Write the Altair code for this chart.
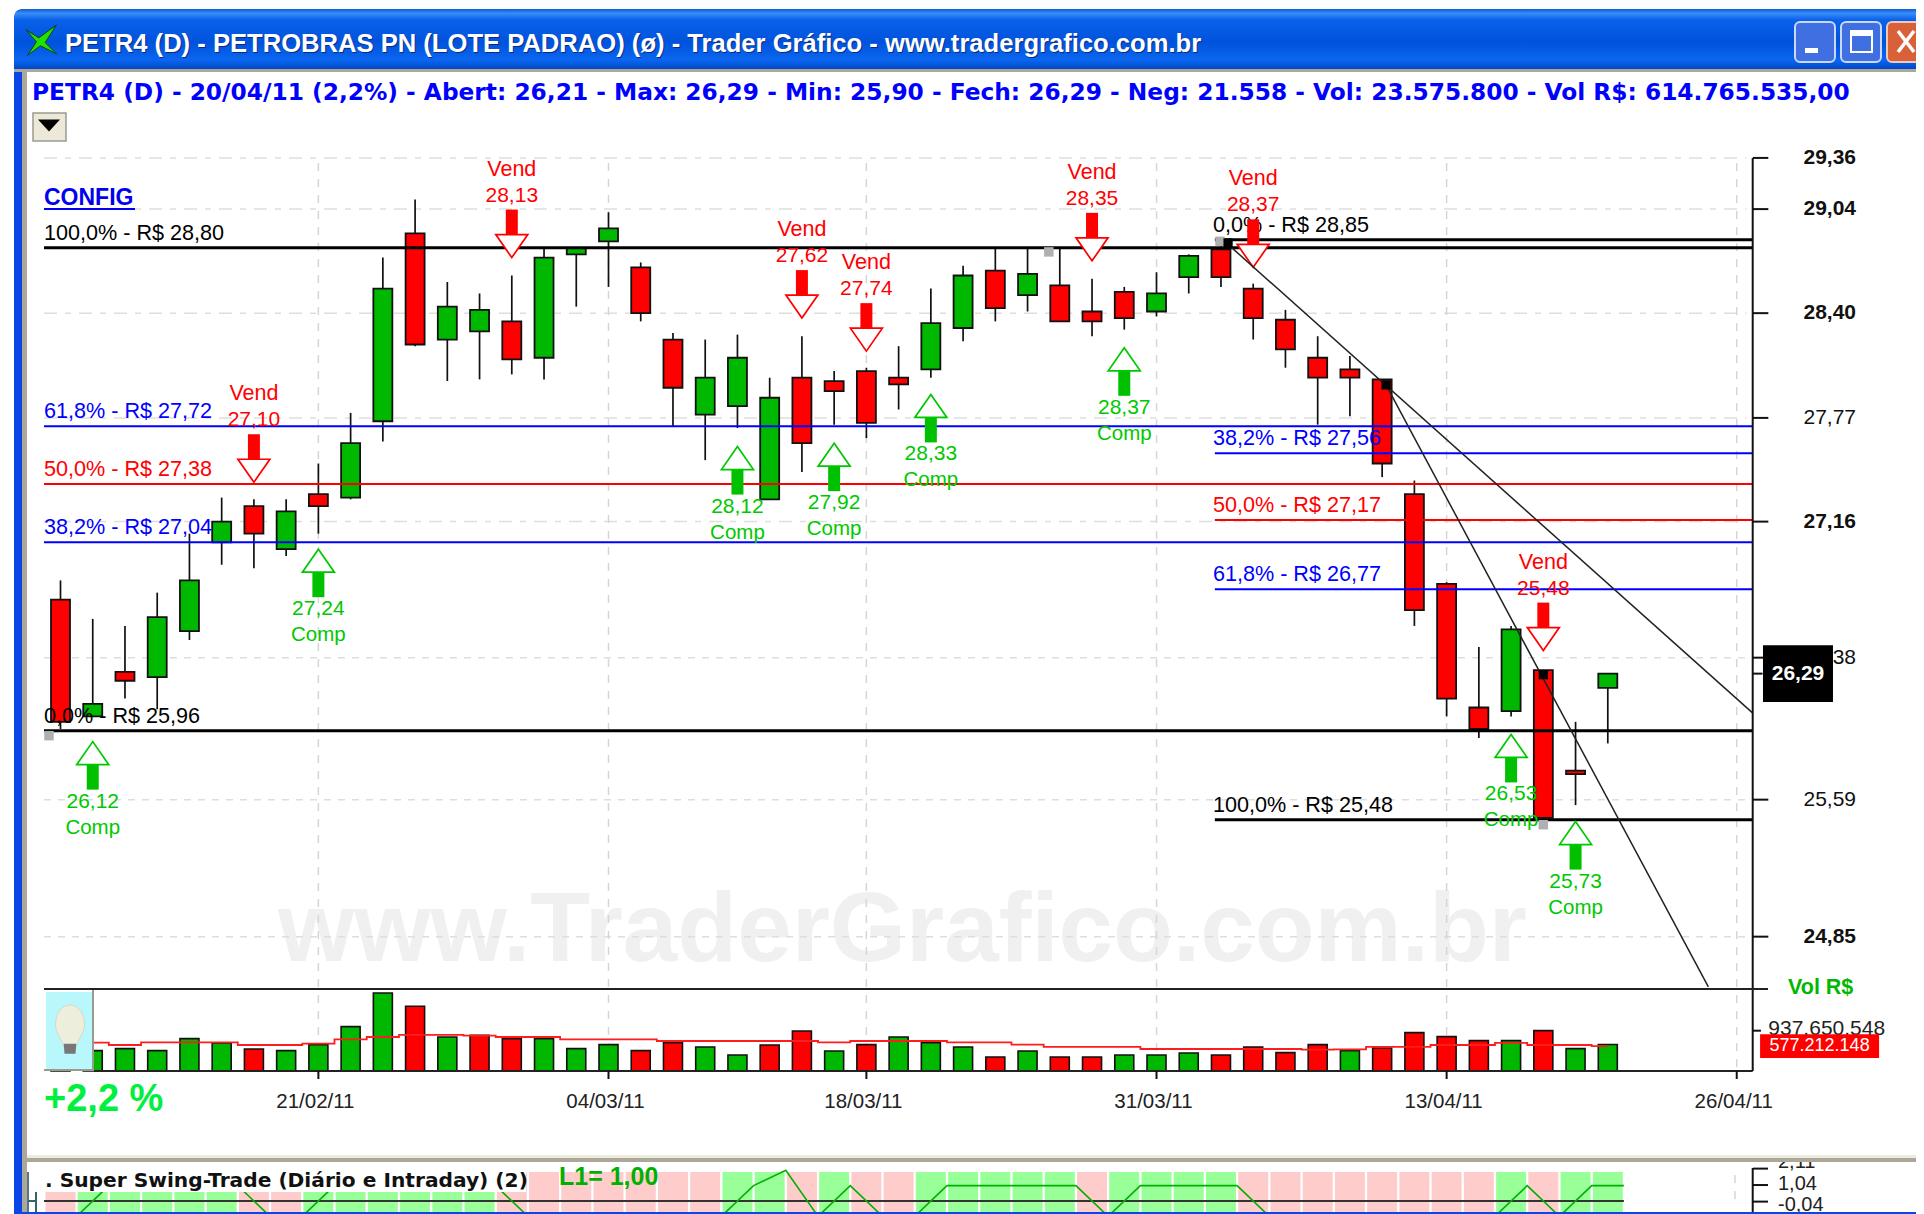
import altair as alt

FONT = "Liberation Sans"

# ---- candle values ----
highs = [26.82,26.60,26.56,26.75,27.09,27.30,27.29,27.29,27.50,27.80,28.74,29.10,28.59,28.52,28.63,28.80,28.80,29.02,28.71,28.28,28.24,28.27,28.01,28.26,28.05,28.07,28.20,28.55,28.69,28.80,28.80,28.80,28.61,28.56,28.65,28.76,28.86,28.58,28.42,28.26,28.14,28.00,27.40,26.81,26.44,26.56,26.31,26.02,26.29]
lows = [25.98,26.05,26.15,26.09,26.48,26.91,26.89,26.96,27.09,27.29,27.63,28.20,27.99,28.00,28.03,28.00,28.44,28.56,28.35,27.72,27.52,27.71,27.29,27.45,27.73,27.65,27.82,28.01,28.23,28.35,28.41,28.35,28.26,28.30,28.38,28.52,28.56,28.24,28.07,27.73,27.78,27.42,26.56,26.05,25.93,26.05,25.49,25.56,25.90]
body_top = [26.71,26.12,26.30,26.61,26.82,27.16,27.25,27.22,27.32,27.62,28.55,28.89,28.44,28.42,28.35,28.74,28.80,28.92,28.68,28.24,28.01,28.13,27.89,28.01,27.99,28.05,28.01,28.34,28.63,28.66,28.64,28.57,28.41,28.53,28.52,28.75,28.79,28.55,28.36,28.13,28.06,28.00,27.32,26.80,26.10,26.54,26.31,25.75,26.29]
body_bottom = [26.02,26.05,26.25,26.27,26.53,27.04,27.09,27.00,27.25,27.30,27.75,28.21,28.24,28.29,28.12,28.13,28.76,28.84,28.40,27.95,27.79,27.84,27.29,27.62,27.93,27.74,27.97,28.06,28.31,28.43,28.51,28.35,28.35,28.37,28.41,28.62,28.62,28.37,28.18,28.01,28.01,27.50,26.65,26.15,25.98,26.08,25.49,25.73,26.21]
candle_up = [0,1,0,1,1,1,0,1,0,1,1,0,1,1,0,1,1,1,0,0,1,1,1,0,0,0,0,1,1,0,1,0,0,0,1,1,0,0,0,0,0,0,0,0,0,1,0,0,1]

# ---- volume values (R$ millions) ----
volume = [500,473,520,473,752,652,512,473,613,1032,1815,1505,791,830,752,752,520,613,473,659,559,372,605,931,465,613,791,659,559,326,465,326,326,372,372,419,372,559,427,613,473,535,892,799,706,706,939,520,615]
vol_up = [1,1,1,1,1,1,0,1,1,1,1,0,1,0,0,1,1,1,0,0,1,1,0,0,1,0,1,1,1,0,1,0,0,1,1,1,0,0,0,0,1,0,0,0,0,1,0,1,1]
vol_avg = [659,659,605,667,667,667,605,605,636,737,791,838,838,822,791,791,737,737,737,698,698,698,698,698,667,698,698,698,667,667,613,559,559,559,512,512,512,512,512,496,504,559,559,605,605,652,605,605,577]

# ---- indicator ----
ind_green = [0,1,1,1,1,1,0,0,1,1,1,1,1,1,0,0,0,0,0,0,0,1,1,0,1,0,0,1,1,1,1,1,0,1,1,1,1,0,0,0,0,0,0,0,0,1,0,1,1]
ind_x = [0.5,1.5,5.5,6.5,7.5,8.5,13.5,14.5,20.5,21.5,22.5,23.5,24.5,25.5,26.5,27.5,31.5,32.5,33.5,36.5,37.5,44.5,45.5,46.5,47.5,48.5]
ind_y = [-1,1,1,-1,-1,1,1,-1,-1,1,2,-1,1,-1,-1,1,1,-1,1,1,-1,-1,1,-1,1,1]

# ---- signals ----
vend_idx = [6,14,23,25,32,37,46]
vend_tip = [27.39,28.74,28.37,28.17,28.72,28.68,26.42]
vend_txt = ["27,10","28,13","27,62","27,74","28,35","28,37","25,48"]
comp_idx = [1,8,21,24,27,33,45,47]
comp_tip = [25.91,27.00,27.60,27.62,27.91,28.19,25.95,25.47]
comp_txt = ["26,12","27,24","28,12","27,92","28,33","28,37","26,53","25,73"]

# ---- fibonacci levels ----
fib_left = [("100,0% - R$ 28,80",28.80,"#000000",3),("61,8% - R$ 27,72",27.72,"#0000ff",2),("50,0% - R$ 27,38",27.38,"#ff0000",2),("38,2% - R$ 27,04",27.04,"#0000ff",2),("0,0% - R$ 25,96",25.97,"#000000",3)]
fib_right = [("0,0% - R$ 28,85",28.85,"#000000",3),("38,2% - R$ 27,56",27.56,"#0000ff",2),("50,0% - R$ 27,17",27.17,"#ff0000",2),("61,8% - R$ 26,77",26.77,"#0000ff",2),("100,0% - R$ 25,48",25.48,"#000000",3)]

# ---- axes ----
price_ticks = [29.36,29.04,28.40,27.77,27.16,26.38,25.59,24.85]
price_tick_txt = ["29,36","29,04","28,40","27,77","27,16","26,38","25,59","24,85"]
price_tick_bold = [1,1,1,0,1,0,0,1]
grid_short = [0,0,0,0,0,1,1,1]
date_idx = [8,17,25,34,43,52]
date_txt = ["21/02/11","04/03/11","18/03/11","31/03/11","13/04/11","26/04/11"]

X0, X1 = -0.512, 52.50      # left / right limit of the plot, in bars
XR = 35.81                  # start of the second Fibonacci set

x_scale = alt.Scale(domain=[-1.6287, 57.561], nice=False, zero=False, padding=0)
price_scale = alt.Scale(type="log", domain=[23.417, 30.318], nice=False, zero=False)
vol_scale = alt.Scale(domain=[-3328, 24736], nice=False, zero=False)
ind_scale = alt.Scale(domain=[-0.847, 77.72], nice=False, zero=False)

def X(f="i"):
    return alt.X(f + ":Q", scale=x_scale, axis=None)
def P(f="p"):
    return alt.Y(f + ":Q", scale=price_scale, axis=None)
def V(f="v"):
    return alt.Y(f + ":Q", scale=vol_scale, axis=None)
def I(f="v"):
    return alt.Y(f + ":Q", scale=ind_scale, axis=None)

ONE = alt.Data(values=[{"a": 1}])
layers = []

def rect(x0, y0, x1, y1, fill, **kw):
    layers.append(alt.Chart(ONE).mark_rect(fill=fill, **kw).encode(
        x=alt.value(x0 - 8), x2=alt.value(x1 - 8), y=alt.value(y0 - 8), y2=alt.value(y1 - 8)))

def seg(x0, y0, x1, y1, color, w=1.5, **kw):
    layers.append(alt.Chart(ONE).mark_rule(color=color, strokeWidth=w, **kw).encode(
        x=alt.value(x0 - 8), x2=alt.value(x1 - 8), y=alt.value(y0 - 8), y2=alt.value(y1 - 8)))

def txt(s, x, y, size, color, weight="normal", align="left", font=FONT):
    layers.append(alt.Chart(ONE).mark_text(text=s, font=font, fontSize=size, color=color, fontWeight=weight,
                                           align=align, baseline="middle").encode(
        x=alt.value(x - 8), y=alt.value(y - 8)))

def glyph(path, x, y, unit, fill, stroke=None, w=1):
    kw = {"stroke": stroke, "strokeWidth": w} if stroke else {"strokeWidth": 0}
    layers.append(alt.Chart(ONE).mark_point(shape=path, size=(2 * unit) ** 2, fill=fill, opacity=1, **kw).encode(
        x=alt.value(x - 8), y=alt.value(y - 8)))

# ---- window chrome, lower layer ----
rect(14, 71, 22, 1214, "#0a45e8")
rect(22, 71, 27, 1214, "#aca899")

# watermark
txt("www.TraderGrafico.com.br", 278, 932, 98, "#f0f0f0", "bold")

# grid
grid_rows = [{"p": p, "a": X0, "b": 52.3, "s": s} for p, s in zip(price_ticks, grid_short)]
layers.append(alt.Chart(alt.Data(values=[r for r in grid_rows if not r["s"]])).mark_rule(color="#dedede", strokeWidth=1.5, strokeDash=[13, 8, 6, 8]).encode(x=X("a"), x2="b:Q", y=P()))
layers.append(alt.Chart(alt.Data(values=[r for r in grid_rows if r["s"]])).mark_rule(color="#dedede", strokeWidth=1.5, strokeDash=[7, 7]).encode(x=X("a"), x2="b:Q", y=P()))
layers.append(alt.Chart(alt.Data(values=[{"i": i} for i in date_idx])).mark_rule(color="#d6d6d6", strokeWidth=1.5, strokeDash=[8, 8]).encode(
    x=X(), y=alt.value(155), y2=alt.value(1063)))

# ---- volume panel ----
vol_rows = [{"i": i, "v": v, "z": 0, "c": "#00b800" if u else "#ff0000"} for i, (v, u) in enumerate(zip(volume, vol_up))]
layers.append(alt.Chart(alt.Data(values=vol_rows)).mark_bar(size=19, stroke="#111111", strokeWidth=1.6).encode(
    x=X(), y=V(), y2="z:Q", color=alt.Color("c:N", scale=None)))
layers.append(alt.Chart(alt.Data(values=[{"i": i, "v": v} for i, v in enumerate(vol_avg)])).mark_line(
    color="#ff1c1c", strokeWidth=1.8, interpolate="step").encode(x=X(), y=V()))

# ---- candles ----
c_rows = [{"i": i, "h": h, "l": l, "t": t, "b": b, "c": "#00b800" if u else "#ff0000"}
          for i, (h, l, t, b, u) in enumerate(zip(highs, lows, body_top, body_bottom, candle_up))]
c_data = alt.Data(values=c_rows)
layers.append(alt.Chart(c_data).mark_rule(color="#111111", strokeWidth=1.7).encode(x=X(), y=P("h"), y2="l:Q"))
layers.append(alt.Chart(c_data).mark_bar(size=19, stroke="#111111", strokeWidth=1.8).encode(
    x=X(), y=P("t"), y2="b:Q", color=alt.Color("c:N", scale=None)))

# ---- Fibonacci levels ----
fib_rows = [{"a": X0, "b": X1, "p": p, "c": c, "w": w, "s": s, "l": X0} for s, p, c, w in fib_left] + \
           [{"a": XR, "b": X1, "p": p, "c": c, "w": w, "s": s, "l": 35.75} for s, p, c, w in fib_right]
fib_data = alt.Data(values=fib_rows)
layers.append(alt.Chart(fib_data).mark_rule().encode(
    x=X("a"), x2="b:Q", y=P(), color=alt.Color("c:N", scale=None), strokeWidth=alt.StrokeWidth("w:Q", scale=None)))
layers.append(alt.Chart(fib_data).mark_text(align="left", baseline="middle", dy=-14, font=FONT, fontSize=21.6).encode(
    x=X("l"), y=P(), text="s:N", color=alt.Color("c:N", scale=None)))

# ---- signals ----
GREEN = "#00c800"
RED = "#ff0000"
vend = alt.Data(values=[{"i": i, "p": p, "s": s} for i, p, s in zip(vend_idx, vend_tip, vend_txt)])
comp = alt.Data(values=[{"i": i, "p": p, "s": s} for i, p, s in zip(comp_idx, comp_tip, comp_txt)])
U = 10000
layers.append(alt.Chart(vend).mark_point(shape="M-.12,-.46 L.12,-.46 L.12,-.96 L-.12,-.96 Z", size=U, fill=RED, strokeWidth=0, opacity=1).encode(x=X(), y=P()))
layers.append(alt.Chart(vend).mark_point(shape="M0,0 L-.32,-.46 L.32,-.46 Z", size=U, fill="#ffffff", stroke=RED, strokeWidth=1.7, opacity=1).encode(x=X(), y=P()))
layers.append(alt.Chart(vend).mark_text(text="Vend", font=FONT, fontSize=21.5, color=RED, dy=-88, baseline="middle").encode(x=X(), y=P()))
layers.append(alt.Chart(vend).mark_text(font=FONT, fontSize=21, color=RED, dy=-62, baseline="middle").encode(x=X(), y=P(), text="s:N"))
layers.append(alt.Chart(comp).mark_point(shape="M-.12,.46 L.12,.46 L.12,.96 L-.12,.96 Z", size=U, fill="#00c000", strokeWidth=0, opacity=1).encode(x=X(), y=P()))
layers.append(alt.Chart(comp).mark_point(shape="M0,0 L-.32,.46 L.32,.46 Z", size=U, fill="#ffffff", stroke=GREEN, strokeWidth=1.7, opacity=1).encode(x=X(), y=P()))
layers.append(alt.Chart(comp).mark_text(font=FONT, fontSize=21, color=GREEN, dy=60, baseline="middle").encode(x=X(), y=P(), text="s:N"))
layers.append(alt.Chart(comp).mark_text(text="Comp", font=FONT, fontSize=20.5, color=GREEN, dy=86, baseline="middle").encode(x=X(), y=P()))

# ---- trend lines ----
trend_a = [{"i": 36.34, "p": 28.80}, {"i": 52.49, "p": 26.07}]
trend_b = [{"i": 41.12, "p": 27.967}, {"i": 51.12, "p": 24.584}]
for t in (trend_a, trend_b):
    layers.append(alt.Chart(alt.Data(values=t)).mark_line(color="#222222", strokeWidth=1.5).encode(x=X(), y=P()))

# handles
handles_grey = [{"i": -0.357, "p": 25.943}, {"i": 30.66, "p": 28.775}, {"i": 35.97, "p": 28.84}, {"i": 46, "p": 25.453}]
handles_black = [{"i": 41.12, "p": 27.967}, {"i": 46, "p": 26.284}, {"i": 36.22, "p": 28.83}]
layers.append(alt.Chart(alt.Data(values=handles_grey)).mark_point(shape="square", size=90, fill="#b0b0b0", strokeWidth=0, opacity=1).encode(x=X(), y=P()))
layers.append(alt.Chart(alt.Data(values=handles_black)).mark_point(shape="square", size=85, fill="#000000", strokeWidth=0, opacity=1).encode(x=X(), y=P()))

# ---- right price axis ----
tick_rows = [{"a": X1, "b": 52.98, "l": 54.07, "p": p, "s": s, "bold": b} for p, s, b in zip(price_ticks, price_tick_txt, price_tick_bold)]
layers.append(alt.Chart(alt.Data(values=tick_rows)).mark_rule(color="#111111", strokeWidth=2).encode(x=X("a"), x2="b:Q", y=P()))
layers.append(alt.Chart(alt.Data(values=[r for r in tick_rows if r["bold"]])).mark_text(align="left", baseline="middle", font=FONT, fontSize=21, fontWeight="bold", color="#111111").encode(x=X("l"), y=P(), text="s:N"))
layers.append(alt.Chart(alt.Data(values=[r for r in tick_rows if not r["bold"]])).mark_text(align="left", baseline="middle", font=FONT, fontSize=21, color="#111111").encode(x=X("l"), y=P(), text="s:N"))
seg(1752.7, 158, 1752.7, 1071, "#111111", 2)

# last price tag
last = alt.Data(values=[{"i": 53.9, "p": 26.29, "s": "26,29", "a": X1, "b": 52.8}])
layers.append(alt.Chart(last).mark_rule(color="#111111", strokeWidth=2).encode(x=X("a"), x2="b:Q", y=P()))
layers.append(alt.Chart(last).mark_point(shape="M-1,-.81 L1,-.81 L1,.81 L-1,.81 Z", size=4900, fill="#000000", strokeWidth=0, opacity=1).encode(x=X(), y=P()))
layers.append(alt.Chart(last).mark_text(font=FONT, fontSize=21, fontWeight="bold", color="#ffffff", baseline="middle").encode(x=X(), y=P(), text="s:N"))

# ---- volume axis / frame ----
seg(44, 989, 1768, 989, "#222222", 2)
seg(94, 1071, 1752.7, 1071, "#222222", 2)
txt("Vol R$", 1788, 988, 21.5, "#00b800", "bold")
vol_tick = alt.Data(values=[{"v": 937.65, "a": X1, "b": 52.75, "l": 52.98, "s": "937.650.548"}])
layers.append(alt.Chart(vol_tick).mark_rule(color="#111111", strokeWidth=2).encode(x=X("a"), x2="b:Q", y=V()))
layers.append(alt.Chart(vol_tick).mark_text(align="left", baseline="middle", font=FONT, fontSize=21, color="#222222", dy=-2).encode(x=X("l"), y=V(), text="s:N"))
vol_tag = alt.Data(values=[{"v": 577.2, "i": 54.57, "s": "577.212.148"}])
layers.append(alt.Chart(vol_tag).mark_point(shape="M-1,-.2 L1,-.2 L1,.2 L-1,.2 Z", size=14161, fill="#ff0000", strokeWidth=0, opacity=1).encode(x=X(), y=V()))
layers.append(alt.Chart(vol_tag).mark_text(font=FONT, fontSize=18, color="#ffffff", baseline="middle").encode(x=X(), y=V(), text="s:N"))

# date axis
date_rows = alt.Data(values=[{"i": i, "s": s} for i, s in zip(date_idx, date_txt)])
layers.append(alt.Chart(date_rows).mark_rule(color="#111111", strokeWidth=2).encode(x=X(), y=alt.value(1063), y2=alt.value(1071)))
layers.append(alt.Chart(date_rows).mark_text(font=FONT, fontSize=20.5, color="#222222", baseline="middle", dx=-3).encode(x=X(), y=alt.value(1094), text="s:N"))

txt("+2,2 %", 44, 1100, 38, "#00f040", "bold")

# bulb icon
rect(46, 992, 92, 1069, "#b8f8fc")
seg(93, 990, 93, 1071, "#9a9a90", 2)
seg(44, 1070, 94, 1070, "#9a9a90", 2)
glyph("M0,-1 C.38,-1 .58,-.6 .58,-.2 C.58,.15 .3,.35 .25,.7 L-.25,.7 C-.3,.35 -.58,.15 -.58,-.2 C-.58,-.6 -.38,-1 0,-1 Z", 70, 1030, 25, "#eeeedc", "#d8d8c0", 1)
glyph("M-.25,.55 L.25,.55 L.22,.95 L-.22,.95 Z", 70, 1030, 25, "#777777")

# ---- indicator panel ----
ind_rows = [{"i": i, "c": "#99ff99" if g else "#ffcccc"} for i, g in enumerate(ind_green)]
layers.append(alt.Chart(alt.Data(values=ind_rows)).mark_bar(size=30).encode(
    x=X(), y=alt.value(1164), y2=alt.value(1206), color=alt.Color("c:N", scale=None)))
layers.append(alt.Chart(alt.Data(values=[{"a": X0, "b": 48.5, "v": 0}])).mark_rule(color="#333333", strokeWidth=2).encode(x=X("a"), x2="b:Q", y=I()))
layers.append(alt.Chart(alt.Data(values=[{"i": a, "v": b} for a, b in zip(ind_x, ind_y)])).mark_line(
    color="#00b000", strokeWidth=1.6, clip=True).encode(x=X(), y=I()))
rect(27, 1162, 526, 1192, "#ffffff")
txt(". Super Swing-Trade (Diário e Intraday) (2)", 45, 1181, 20.2, "#111111", "bold", font="DejaVu Sans")
txt("L1= 1,00", 559, 1177, 25, "#00b000", "bold")
ind_ticks = alt.Data(values=[{"v": 2.11, "s": "2,11"}, {"v": 1.04, "s": "1,04"}, {"v": -0.04, "s": "-0,04"}])
layers.append(alt.Chart(ind_ticks).mark_rule(color="#111111", strokeWidth=2).encode(
    x=alt.value(1745), x2=alt.value(1760), y=I()))
for row in [{"v": 2.11, "s": "2,11", "dy": -7}, {"v": 1.04, "s": "1,04", "dy": -1}, {"v": -0.04, "s": "-0,04", "dy": 3}]:
    layers.append(alt.Chart(alt.Data(values=[row])).mark_text(align="left", baseline="middle", font=FONT, fontSize=20, color="#222222", dy=row["dy"]).encode(
        x=alt.value(1770), y=I(), text="s:N"))
seg(1752.7, 1168, 1752.7, 1214, "#111111", 2)
seg(1735, 1175, 1735, 1200, "#d6d6d6", 1.5, strokeDash=[8, 8])
seg(28, 1172, 28, 1212, "#557788", 2)
seg(36, 1192, 36, 1212, "#336666", 2)
seg(28, 1201, 36, 1201, "#336666", 2)

# separator + top of panel
rect(27, 1147, 1924, 1156, "#ffffff")
rect(27, 1155, 1924, 1158, "#ecebdf")
rect(27, 1158, 1924, 1162, "#aca899")
rect(14, 1212, 1924, 1214, "#0a45e8")

# ---- title bar ----
grad = alt.LinearGradient(gradient="linear", x1=0, x2=0, y1=0, y2=1, stops=[
    alt.GradientStop(color="#0a5cd8", offset=0), alt.GradientStop(color="#3a8cf8", offset=0.07),
    alt.GradientStop(color="#0a62ea", offset=0.18), alt.GradientStop(color="#0052dc", offset=0.55),
    alt.GradientStop(color="#0a66f0", offset=0.85), alt.GradientStop(color="#0048c8", offset=1)])
rect(14, 9, 1924, 69, grad, cornerRadiusTopLeft=8)
rect(14, 69, 1924, 72, "#aca899")
TITLE = "PETR4 (D) - PETROBRAS PN (LOTE PADRAO) (ø) - Trader Gráfico - www.tradergrafico.com.br"
txt(TITLE, 66, 45, 25.6, "#0a2a80", "bold")
txt(TITLE, 65, 44, 25.6, "#ffffff", "bold")
# icon
glyph("M-1,-.7 L-.2,-.2 L.9,-1 L.2,.1 L.9,.8 L-.1,.3 L-.9,.9 L-.35,.05 Z", 42, 41, 16, "#22e000", "#0a4010", 1)

# window buttons
rect(1795, 22, 1835, 62, "#3f6fe0", stroke="#c8d8ff", strokeWidth=2, cornerRadius=5)
rect(1841, 22, 1881, 62, "#3f6fe0", stroke="#c8d8ff", strokeWidth=2, cornerRadius=5)
rect(1887, 22, 1926, 62, "#d8613a", stroke="#f0c8b8", strokeWidth=2, cornerRadius=5)
rect(1805, 48, 1818, 53, "#ffffff")
rect(1851, 31, 1872, 52, "#3f6fe0", stroke="#ffffff", strokeWidth=2)
rect(1851, 31, 1872, 36, "#ffffff")
seg(1898, 31, 1914, 52, "#ffffff", 3.5)
seg(1914, 31, 1898, 52, "#ffffff", 3.5)

# ---- info line ----
txt("PETR4 (D) - 20/04/11 (2,2%) - Abert: 26,21 - Max: 26,29 - Min: 25,90 - Fech: 26,29 - Neg: 21.558 - Vol: 23.575.800 - Vol R$: 614.765.535,00",
    32, 93, 23.3, "#0000ff", "bold", font="DejaVu Sans")

# dropdown
rect(33, 113, 66, 141, "#ece9d8", stroke="#9a9a90", strokeWidth=1.5)
glyph("M-1,-.5 L1,-.5 L0,.6 Z", 49, 125, 11, "#000000")

# CONFIG
txt("CONFIG", 44, 198, 23, "#0000ee", "bold")
seg(44, 209, 135, 209, "#0000ee", 2)

chart = alt.layer(*layers).resolve_scale(y="independent", x="shared", color="independent").properties(
    width=1908, height=1206, padding=0, background="#ffffff",
    autosize=alt.AutoSizeParams(type="none")
).configure_view(stroke=None)

chart.save("out.html", embed_options={"renderer": "svg", "actions": False})
